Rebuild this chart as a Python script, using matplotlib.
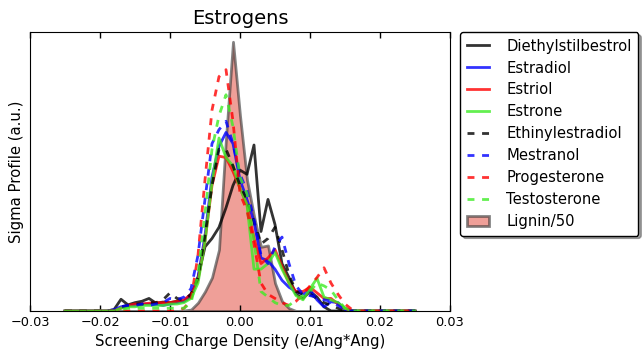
import numpy as np
import matplotlib
matplotlib.use('Agg')
import matplotlib.pyplot as plt

# screening charge grid, -0.025 .. 0.025 in steps of 0.001
sigma = np.linspace(-0.025, 0.025, 51)

diethylstilbestrol = [0, 0, 0, 0, 0, 0, 0,
                      0.005, 0.042, 0.022, 0.03, 0.035, 0.045, 0.028, 0.032, 0.03, 0.035, 0.035,
                      0.05, 0.12, 0.23, 0.26, 0.30, 0.37, 0.45, 0.505, 0.49, 0.595, 0.285, 0.40,
                      0.31, 0.17, 0.12, 0.06, 0.045, 0.07, 0.05, 0.015,
                      0, 0, 0, 0, 0, 0, 0, 0, 0, 0, 0, 0, 0]
estradiol = [0, 0, 0, 0, 0, 0, 0,
             0.005, 0.015, 0.02, 0.02, 0.025, 0.025, 0.025, 0.02, 0.025, 0.03, 0.035,
             0.06, 0.12, 0.27, 0.48, 0.59, 0.64, 0.60, 0.47, 0.40, 0.32, 0.19, 0.18,
             0.15, 0.11, 0.085, 0.07, 0.06, 0.075, 0.04, 0.015, 0.033, 0.03, 0.006,
             0, 0, 0, 0, 0, 0, 0, 0, 0, 0]
estriol = [0, 0, 0, 0, 0, 0, 0, 0,
           0.01, 0.02, 0.025, 0.025, 0.028, 0.03, 0.03, 0.03, 0.035, 0.04,
           0.06, 0.11, 0.25, 0.45, 0.555, 0.55, 0.50, 0.44, 0.38, 0.26, 0.17, 0.19,
           0.22, 0.16, 0.10, 0.07, 0.07, 0.085, 0.065, 0.045, 0.045, 0.025, 0.01,
           0, 0, 0, 0, 0, 0, 0, 0, 0, 0]
estrone = [0, 0, 0, 0, 0, 0, 0, 0,
           0.01, 0.015, 0.015, 0.02, 0.02, 0.02, 0.02, 0.025, 0.025, 0.03,
           0.045, 0.10, 0.25, 0.46, 0.62, 0.55, 0.52, 0.44, 0.38, 0.15, 0.15, 0.17,
           0.21, 0.15, 0.10, 0.055, 0.04, 0.08, 0.117, 0.05, 0.04, 0.03, 0.01,
           0, 0, 0, 0, 0, 0, 0, 0, 0, 0]
ethinylestradiol = [0, 0, 0, 0, 0, 0, 0, 0,
                    0.015, 0.02, 0.025, 0.025, 0.03, 0.03, 0.04, 0.065, 0.045, 0.04,
                    0.06, 0.12, 0.27, 0.45, 0.58, 0.58, 0.52, 0.45, 0.40, 0.32, 0.24, 0.26,
                    0.30, 0.22, 0.13, 0.07, 0.06, 0.06, 0.045, 0.03, 0.02, 0.01,
                    0, 0, 0, 0, 0, 0, 0, 0, 0, 0, 0]
mestranol = [0, 0, 0, 0, 0, 0, 0, 0,
             0.015, 0.02, 0.02, 0.025, 0.02, 0.025, 0.03, 0.045, 0.04, 0.05,
             0.08, 0.20, 0.40, 0.60, 0.65, 0.68, 0.60, 0.49, 0.43, 0.33, 0.20, 0.17,
             0.23, 0.265, 0.17, 0.09, 0.06, 0.055, 0.05, 0.04, 0.035, 0.02, 0.006,
             0, 0, 0, 0, 0, 0, 0, 0, 0, 0]
progesterone = [0, 0, 0, 0, 0, 0, 0, 0, 0, 0, 0, 0, 0, 0, 0, 0, 0,
                0.01, 0.04, 0.20, 0.47, 0.72, 0.84, 0.865, 0.68, 0.42, 0.36, 0.24, 0.10, 0.06,
                0.045, 0.03, 0.02, 0.035, 0.06, 0.09, 0.12, 0.155, 0.10, 0.06, 0.025, 0.005,
                0, 0, 0, 0, 0, 0, 0, 0, 0]
testosterone = [0, 0, 0, 0, 0, 0, 0, 0,
                0.005, 0.01, 0.01, 0.01, 0.01, 0.01, 0.01, 0.01, 0.01, 0.01,
                0.03, 0.13, 0.35, 0.58, 0.70, 0.775, 0.66, 0.48, 0.42, 0.25, 0.07, 0.05,
                0.03, 0.02, 0.02, 0.04, 0.055, 0.07, 0.10, 0.09, 0.075, 0.04, 0.01,
                0, 0, 0, 0, 0, 0, 0, 0, 0, 0]
# lignin profile already divided by 50
lignin = [0, 0, 0, 0, 0, 0, 0, 0, 0, 0, 0, 0, 0, 0, 0, 0, 0,
          0.002, 0.005, 0.03, 0.07, 0.12, 0.22, 0.62, 0.965, 0.70, 0.47, 0.34, 0.23, 0.235,
          0.10, 0.035, 0.01,
          0, 0, 0, 0, 0, 0, 0, 0, 0, 0, 0, 0, 0, 0, 0, 0, 0, 0]

names = ['Diethylstilbestrol', 'Estradiol', 'Estriol', 'Estrone',
         'Ethinylestradiol', 'Mestranol', 'Progesterone', 'Testosterone']
profiles = [diethylstilbestrol, estradiol, estriol, estrone,
            ethinylestradiol, mestranol, progesterone, testosterone]
colors = ['k', 'b', 'r', '#3dec24', 'k', 'b', 'r', '#3dec24']
styles = ['-', '-', '-', '-', '--', '--', '--', '--']

plt.rcParams['lines.scale_dashes'] = False
plt.rcParams['xtick.direction'] = 'in'
plt.rcParams['xtick.top'] = True

fig = plt.figure(figsize=(6.42, 3.56), dpi=100)
ax = fig.add_axes([30 / 642, 45 / 356, 420 / 642, 279 / 356])

for name, prof, c, ls in zip(names, profiles, colors, styles):
    if ls == '--':
        ax.plot(sigma, prof, color=c, lw=2, alpha=0.8, dashes=(5, 5.5), label=name)
    else:
        ax.plot(sigma, prof, color=c, lw=2, alpha=0.8, label=name)

# face and edge carry their own alpha
ax.fill_between(sigma, lignin, 0, facecolor=(0.88, 0.25, 0.2, 0.5),
                edgecolor=(0.2, 0.2, 0.2, 0.6), lw=2, label='Lignin/50', zorder=1.5)

ax.set_xlim(-0.03, 0.03)
ax.set_ylim(0, 1.0)
ax.set_yticks([])
ax.set_xticks(np.linspace(-0.03, 0.03, 7))
ax.tick_params(axis='x', length=4, width=1, labelsize=9.3)
ax.set_xlabel('Screening Charge Density (e/Ang*Ang)', fontsize=10.7)
ax.set_ylabel('Sigma Profile (a.u.)', fontsize=10.7)
ax.set_title('Estrogens', fontsize=14)

leg = ax.legend(loc='upper left', bbox_to_anchor=(1.024, 1.0), borderaxespad=0,
                fontsize=10.6, fancybox=True, shadow=True, framealpha=1,
                handlelength=1.5, handletextpad=1.2, labelspacing=0.47,
                borderpad=0.45)
leg.get_frame().set_edgecolor('k')

fig.savefig('out.png', dpi=100)
